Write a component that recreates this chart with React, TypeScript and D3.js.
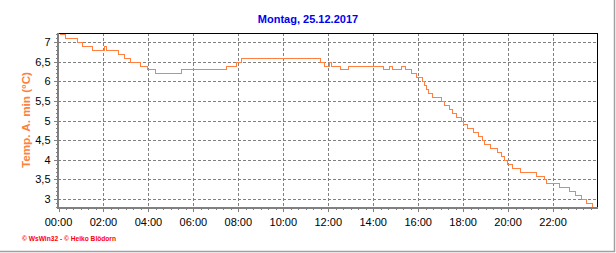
import React from "react";
import * as d3 from "d3";

const title = "Montag, 25.12.2017";
const yLabel = "Temp. A. min (°C)";
const footer = "© WsWin32 - © Heiko Blödorn";

// change points (time of day, minimum outdoor temperature)
const times = [
  "00:00", "00:18", "00:50", "01:02", "01:29", "02:02", "02:08", "02:40", "02:55", "03:11",
  "03:37", "03:56", "04:18", "05:26", "07:26", "07:53", "08:08", "11:39", "11:48", "12:02",
  "12:08", "12:31", "12:52", "14:25", "14:42", "14:49", "15:15", "15:26", "15:42", "15:55",
  "16:10", "16:16", "16:20", "16:26", "16:37", "17:00", "17:08", "17:22", "17:30", "17:42",
  "17:53", "18:01", "18:11", "18:27", "18:41", "18:50", "18:55", "19:13", "19:30", "19:42",
  "19:50", "19:57", "20:11", "20:31", "21:15", "21:36", "21:42", "22:16", "22:42", "22:58",
  "23:15", "23:29", "23:44", "23:55",
];
const values = [
  7.2, 7.1, 7.0, 6.9, 6.8, 6.9, 6.8, 6.7, 6.6, 6.5,
  6.4, 6.3, 6.2, 6.3, 6.4, 6.5, 6.6, 6.5, 6.4, 6.5,
  6.4, 6.3, 6.4, 6.3, 6.4, 6.3, 6.4, 6.3, 6.2, 6.1,
  6.0, 5.9, 5.8, 5.7, 5.6, 5.5, 5.4, 5.3, 5.2, 5.1,
  5.0, 4.9, 4.8, 4.7, 4.6, 4.5, 4.4, 4.3, 4.2, 4.1,
  4.0, 3.9, 3.8, 3.7, 3.6, 3.5, 3.4, 3.3, 3.2, 3.1,
  3.0, 2.9, 2.8, 2.8,
];
const xTickLabels = ["00:00", "02:00", "04:00", "06:00", "08:00", "10:00", "12:00", "14:00", "16:00", "18:00", "20:00", "22:00"];
const yTickValues = [3, 3.5, 4, 4.5, 5, 5.5, 6, 6.5, 7];

const W = 616, H = 253;
const left = 58, right = 597.5, top = 33, bottom = 207;

const toMin = (s: string) => {
  const [h, m] = s.split(":").map(Number);
  return h * 60 + m;
};

export default function App() {
  const x = d3.scaleLinear().domain([0, 1440]).range([58.5, 598]);
  const y = d3.scaleLinear().domain([2.8, 7.22]).range([bottom, top + 0.3]);
  const data = times.map((t, i) => ({ t: toMin(t), v: values[i] }));
  const line = d3
    .line<{ t: number; v: number }>()
    .x((d) => Math.round(x(d.t)) + 0.5)
    .y((d) => Math.round(y(d.v)) + 0.5)
    .curve(d3.curveStepAfter);

  const minorY = d3.range(28, 73).map((v) => v / 10).filter((v) => y(v) >= top && y(v) <= bottom);
  const minorX = d3.range(0, 1440, 20);
  const font = "'Liberation Sans', Arial, sans-serif";
  const grid = "#808080";

  return (
    <svg
      width={W}
      height={H}
      style={{ position: "absolute", left: 0, top: 0, background: "#fff" }}
      fontFamily={font}
    >
      <rect x={0} y={0} width={W} height={H} fill="#fff" />
      {/* outer frame */}
      <line x1={614.5} y1={0} x2={614.5} y2={252} stroke="#a0a0a0" strokeWidth={1.5} />
      <line x1={0} y1={251.5} x2={615} y2={251.5} stroke="#a0a0a0" strokeWidth={1.5} />

      <text x={308} y={23} textAnchor="middle" fontSize={11} fontWeight="bold" fill="#0000F0">
        {title}
      </text>

      {/* grid */}
      <g shapeRendering="crispEdges">
        {yTickValues.map((v) => (
          <line key={"gy" + v} x1={left} x2={right} y1={Math.round(y(v)) + 0.5} y2={Math.round(y(v)) + 0.5}
            stroke={grid} strokeDasharray="3,2" />
        ))}
        {xTickLabels.slice(1).map((s) => (
          <line key={"gx" + s} x1={Math.round(x(toMin(s))) + 0.5} x2={Math.round(x(toMin(s))) + 0.5} y1={top} y2={bottom}
            stroke={grid} strokeDasharray="3,2" />
        ))}
      </g>

      {/* data line */}
      <path d={line(data) || ""} fill="none" stroke="#FF8040" strokeWidth={1} shapeRendering="crispEdges" />

      {/* frame and axes */}
      <g shapeRendering="crispEdges">
        <line x1={left} x2={right} y1={top + 0.5} y2={top + 0.5} stroke="#000" />
        <line x1={right} x2={right} y1={top} y2={bottom} stroke="#000" />
        <line x1={left} x2={left} y1={top} y2={bottom + 1} stroke={grid} strokeWidth={2} />
        <line x1={left - 1} x2={right + 0.5} y1={bottom + 0.5} y2={bottom + 0.5} stroke={grid} strokeWidth={2} />
        {minorY.map((v) => (
          <line key={"my" + v} x1={55.5} x2={57} y1={Math.round(y(v)) + 0.5} y2={Math.round(y(v)) + 0.5} stroke={grid} />
        ))}
        {yTickValues.map((v) => (
          <line key={"My" + v} x1={54} x2={57} y1={Math.round(y(v)) + 0.5} y2={Math.round(y(v)) + 0.5} stroke={grid} />
        ))}
        {minorX.map((m) => (
          <line key={"mx" + m} x1={Math.round(x(m)) + 0.5} x2={Math.round(x(m)) + 0.5} y1={208} y2={210} stroke={grid} />
        ))}
        {xTickLabels.map((s) => (
          <line key={"Mx" + s} x1={Math.round(x(toMin(s))) + 0.5} x2={Math.round(x(toMin(s))) + 0.5} y1={208} y2={212} stroke={grid} />
        ))}
      </g>

      {/* tick labels */}
      {yTickValues.map((v) => (
        <text key={"ty" + v} x={50.5} y={y(v) + 4} textAnchor="end" fontSize={11} fill="#000">
          {String(v).replace(".", ",")}
        </text>
      ))}
      {xTickLabels.map((s) => (
        <text key={"tx" + s} x={x(toMin(s))} y={226} textAnchor="middle" fontSize={11} fill="#000">
          {s}
        </text>
      ))}

      <text transform="translate(29.5,120) rotate(-90)" textAnchor="middle" fontSize={11.5} fontWeight="bold"
        fill="#FF8040" textLength={96} lengthAdjust="spacingAndGlyphs">
        {yLabel}
      </text>

      <text x={22} y={241} fontSize={7} fontWeight="bold" fill="#FF0000" textLength={94} lengthAdjust="spacingAndGlyphs">
        {footer}
      </text>
    </svg>
  );
}
